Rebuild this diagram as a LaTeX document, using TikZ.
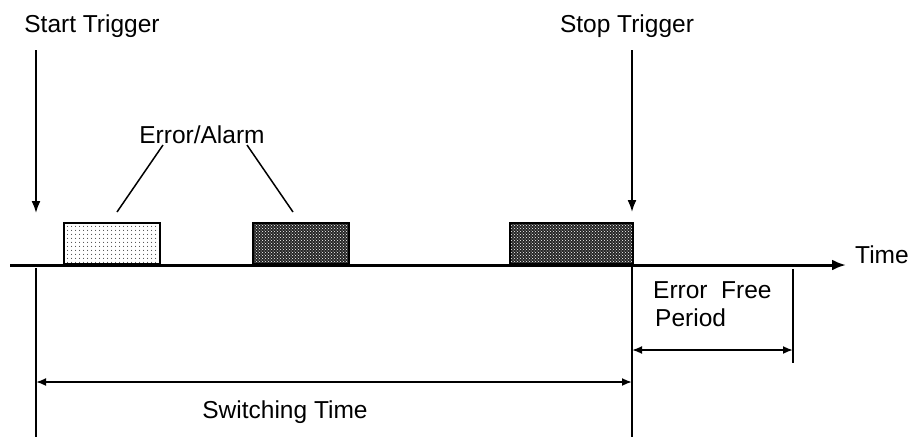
\documentclass[tikz,border=0pt]{standalone}
\usepackage{fontspec}
\setmainfont{Liberation Sans}
\usetikzlibrary{arrows.meta,patterns,patterns.meta}
\begin{document}
\begin{tikzpicture}[x=1pt,y=-1pt,
  lbl/.style={font=\fontsize{24.5}{28}\selectfont, inner sep=0pt},
  pulse/.style={draw, line width=2pt, minimum height=41pt, inner sep=0pt, anchor=south west},
  light/.style={pattern={Dots[distance=4pt, radius=0.6pt]}},
  dark/.style={preaction={fill=black!85}, pattern=crosshatch dots, pattern color=white},
  trig/.style={line width=1.8pt, -{Latex[length=12pt,width=9pt]}},
  axis/.style={line width=3pt, -{Latex[length=14pt,width=11pt]}},
  dim/.style={line width=1.8pt, {Latex[length=10pt,width=8pt]}-{Latex[length=10pt,width=8pt]}},
  ext/.style={line width=1.2pt},
  lead/.style={line width=1.5pt}]
\useasboundingbox (0,0) rectangle (912,437);
% labels
\node[lbl, anchor=base] (start) at (92,32) {Start Trigger};
\node[lbl, anchor=base] (stop) at (627,32) {Stop Trigger};
\node[lbl, anchor=base] (err) at (202,143) {Error/Alarm};
\node[lbl, anchor=base west] (time) at (855,263) {Time};
\node[lbl, anchor=base west] (efp) at (653,298) {Error\ \ Free};
\node[lbl, anchor=base west] (per) at (655,326) {Period};
\node[lbl, anchor=base] (sw) at (285,418) {Switching Time};
% pulses
\node[pulse, light, minimum width=96pt] (p1) at (63,265) {};
\node[pulse, dark, minimum width=96pt] (p2) at (252,265) {};
\node[pulse, dark, minimum width=123pt] (p3) at (509,265) {};
% coordinates
\coordinate (sa) at (36,50);
\coordinate (sb) at (36,213);
\coordinate (ta) at (632,50);
\coordinate (tb) at (632,212);
\coordinate (t0) at (10,265);
\coordinate (l1) at (163,145);
\coordinate (l1e) at (117,212);
\coordinate (l2) at (247,145);
\coordinate (l2e) at (293,212);
\coordinate (el) at (36,268);
\coordinate (elb) at (36,437);
\coordinate (er) at (632,265);
\coordinate (erb) at (632,437);
\coordinate (ef) at (793,269);
\coordinate (efb) at (793,363);
% trigger arrows
\draw[trig] (sa) -- (sb);
\draw[trig] (ta) -- (tb);
% time axis
\draw[axis] (t0) -- ([xshift=-9pt]time.west |- t0);
% leaders
\draw[lead] (l1) -- (l1e);
\draw[lead] (l2) -- (l2e);
% extension lines
\draw[ext] (el) -- (elb);
\draw[ext] (er) -- (erb);
\draw[ext] (ef) -- (efb);
% dimensions
\draw[dim] (el |- 0,382) -- (er |- 0,382);
\draw[dim] (er |- 0,350) -- (ef |- 0,350);
\end{tikzpicture}
\end{document}
